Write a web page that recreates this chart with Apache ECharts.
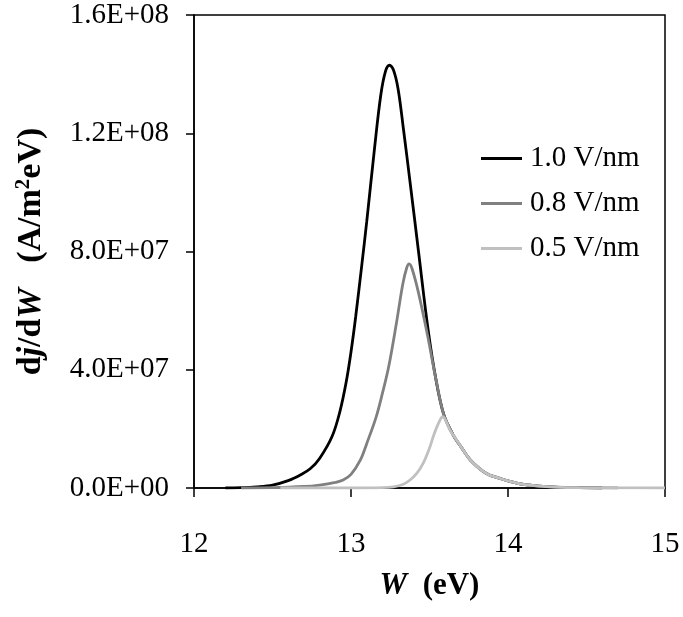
<!DOCTYPE html>
<html>
<head>
<meta charset="utf-8">
<script src="https://cdn.jsdelivr.net/npm/echarts@6/dist/echarts.min.js"></script>
<style>
html,body{margin:0;padding:0;background:#fff;}
#chart{width:683px;height:617px;}
</style>
</head>
<body>
<div id="chart"></div>
<script>
// Data (W in eV, dj/dW in units of 1e6 A/m^2eV)
const seriesNames = ['1.0 V/nm', '0.8 V/nm', '0.5 V/nm'];
const w10 = [12.2, 12.3, 12.4, 12.5, 12.6, 12.68, 12.74, 12.8, 12.88, 12.93, 12.97, 13.0, 13.03, 13.07, 13.1, 13.15, 13.19, 13.22, 13.245, 13.27, 13.3, 13.335, 13.375, 13.43, 13.49, 13.54, 13.59, 13.65, 13.7, 13.76, 13.86, 13.95, 14.0, 14.1, 14.2, 14.3, 14.45, 14.6];
const j10 = [0, 0.1, 0.4, 1.0, 2.5, 4.5, 6.5, 10, 17.5, 26, 36, 46, 58, 76, 90, 115, 133, 141, 143, 141.5, 135, 121, 104, 80, 54, 37, 25, 18, 14, 9.5, 5, 3.2, 2.4, 1.2, 0.6, 0.3, 0.1, 0];
const w08 = [12.3, 12.5, 12.7, 12.8, 12.9, 12.95, 13.0, 13.06, 13.1, 13.16, 13.2, 13.24, 13.29, 13.33, 13.355, 13.37, 13.39, 13.43, 13.49, 13.54, 13.59, 13.65, 13.7, 13.76, 13.86, 13.95, 14.0, 14.1, 14.2, 14.3, 14.45, 14.7];
const j08 = [0, 0.1, 0.5, 1.0, 1.9, 2.7, 4.6, 9.5, 15, 24, 32, 41, 56, 69, 74.5, 75.8, 74, 66, 51, 37, 25, 18, 14, 9.5, 5, 3.2, 2.4, 1.2, 0.6, 0.3, 0.1, 0];
const w05 = [12.55, 13.0, 13.2, 13.27, 13.33, 13.376, 13.42, 13.46, 13.5, 13.524, 13.55, 13.584, 13.63, 13.65, 13.7, 13.76, 13.86, 13.95, 14.0, 14.1, 14.2, 14.3, 14.45, 14.7, 15.0];
const j05 = [0, 0, 0.1, 0.4, 1.2, 2.7, 5, 8.4, 13.5, 17.4, 21, 24.1, 19.6, 18, 14, 9.5, 5, 3.2, 2.4, 1.2, 0.6, 0.3, 0.1, 0.05, 0];
const yTickLabels = ['0.0E+00', '4.0E+07', '8.0E+07', '1.2E+08', '1.6E+08'];
const xTickLabels = ['12', '13', '14', '15'];

const colors = ['#000000', '#808080', '#c0c0c0'];
const FONT = '"Liberation Serif", "Times New Roman", serif';

function pairs(w, j) { return w.map((x, i) => [x, j[i] * 1e6]); }
const allData = [pairs(w10, j10), pairs(w08, j08), pairs(w05, j05)];

const chart = echarts.init(document.getElementById('chart'), null, {renderer: 'canvas'});
chart.setOption({
  animation: false,
  backgroundColor: '#ffffff',
  grid: {left: 194, right: 18, top: 15, bottom: 129, outerBoundsMode: 'none', containLabel: false, show: true, borderColor: '#000', borderWidth: 1.5, backgroundColor: 'transparent'},
  legend: {
    orient: 'vertical',
    left: 476, top: 139,
    icon: 'rect',
    itemWidth: 41, itemHeight: 3,
    itemGap: 16,
    textStyle: {fontFamily: FONT, fontSize: 29, color: '#000', padding: [0, 0, 0, 3]},
    data: seriesNames
  },
  xAxis: {
    type: 'value', min: 12, max: 15, interval: 1,
    axisLine: {show: true, onZero: false, lineStyle: {color: '#000', width: 1.5}},
    axisTick: {show: true, inside: false, length: 9, lineStyle: {color: '#000', width: 1.5}},
    splitLine: {show: false},
    axisLabel: {
      margin: 42, fontFamily: FONT, fontSize: 29, color: '#000',
      formatter: (v) => xTickLabels[Math.round(v - 12)]
    },
    name: '{bi|W}{b|  (eV)}',
    nameLocation: 'middle',
    nameGap: 82,
    nameTextStyle: {
      rich: {
        bi: {fontFamily: FONT, fontSize: 31, fontWeight: 'bold', fontStyle: 'italic', color: '#000'},
        b: {fontFamily: FONT, fontSize: 31, fontWeight: 'bold', color: '#000'}
      }
    }
  },
  yAxis: {
    type: 'value', min: 0, max: 1.6e8, interval: 4e7,
    axisLine: {show: true, lineStyle: {color: '#000', width: 1.5}},
    axisTick: {show: true, inside: false, length: 8, lineStyle: {color: '#000', width: 1.5}},
    splitLine: {show: false},
    axisLabel: {
      margin: 25, fontFamily: FONT, fontSize: 29, color: '#000',
      formatter: (v) => yTickLabels[Math.round(v / 4e7)]
    },
    name: '{b|d}{bi|j}{b|/d}{bi|W}{b|   (A/m}{sup|2}{b|eV)}',
    nameLocation: 'middle',
    nameGap: 145,
    nameRotate: 90,
    nameTextStyle: {
      rich: {
        b: {fontFamily: FONT, fontSize: 34, fontWeight: 'bold', color: '#000'},
        bi: {fontFamily: FONT, fontSize: 34, fontWeight: 'bold', fontStyle: 'italic', color: '#000'},
        sup: {fontFamily: FONT, fontSize: 21, fontWeight: 'bold', color: '#000', verticalAlign: 'top', padding: [0, 0, 15, 0]}
      }
    }
  },
  series: allData.map((d, i) => ({
    name: seriesNames[i],
    type: 'line',
    data: d,
    showSymbol: false,
    smooth: 0.35,
    lineStyle: {color: colors[i], width: 2.8},
    itemStyle: {color: colors[i]},
    z: 2 + i
  }))
});
</script>
</body>
</html>
